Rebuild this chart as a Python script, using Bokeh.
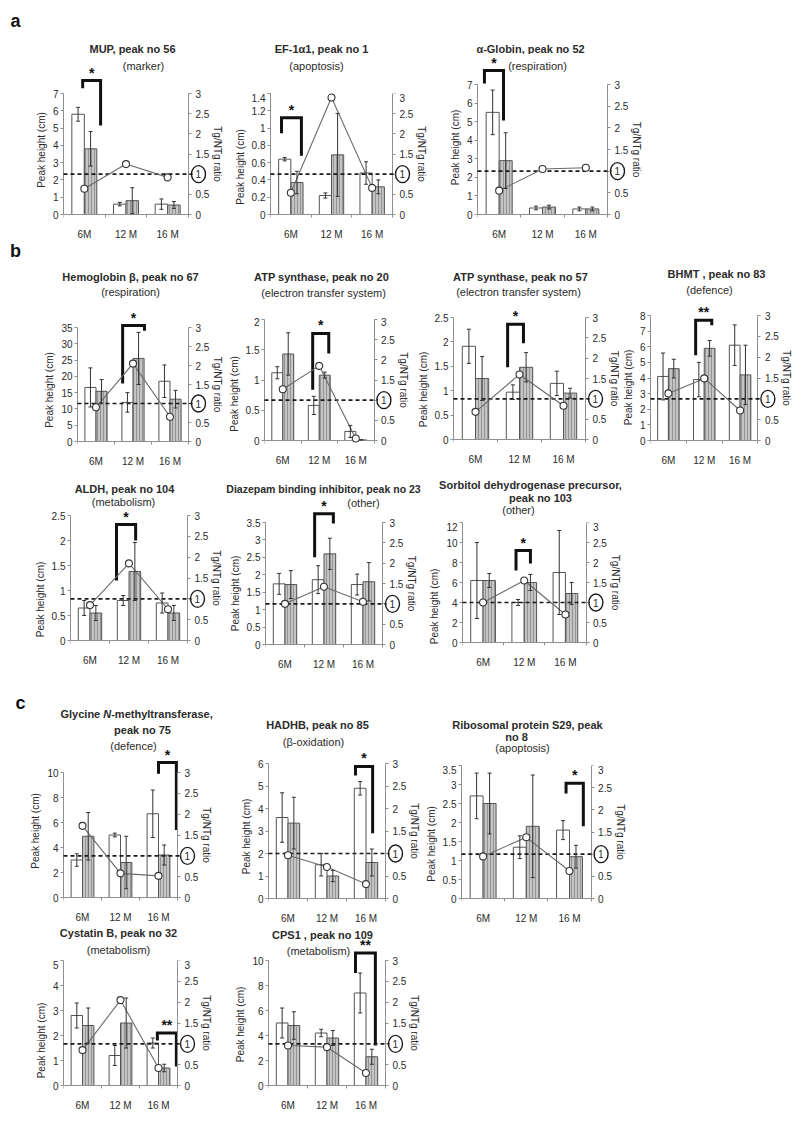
from bokeh.plotting import figure
from bokeh.models import (ColumnDataSource, Range1d, LinearAxis, FixedTicker,
                          Whisker, TeeHead)
from bokeh.layouts import column, row
from bokeh.embed import file_html
from bokeh.resources import INLINE
from bokeh.core.properties import value

FONT = "Liberation Sans"
TXT = "#2b2b2b"
AX = "#8f8f8f"

months = ["6M", "12 M", "16 M"]

# ---------------- data ----------------
# white bars = NTg, grey bars = Tg, circles = Tg/NTg ratio
mup_ntg = [5.8, 0.6, 0.6]
mup_ntg_err = [0.4, 0.1, 0.3]
mup_tg = [3.8, 0.8, 0.55]
mup_tg_err = [1.0, 0.75, 0.2]
mup_ratio = [0.64, 1.25, 0.92]

ef_ntg = [0.64, 0.22, 0.48]
ef_ntg_err = [0.02, 0.03, 0.13]
ef_tg = [0.37, 0.69, 0.32]
ef_tg_err = [0.13, 0.48, 0.08]
ef_ratio = [0.54, 2.9, 0.66]

glob_ntg = [5.5, 0.35, 0.3]
glob_ntg_err = [1.2, 0.1, 0.1]
glob_tg = [2.9, 0.4, 0.3]
glob_tg_err = [1.5, 0.1, 0.1]
glob_ratio = [0.55, 1.05, 1.08]

hemo_ntg = [16.6, 12.0, 18.5]
hemo_ntg_err = [6.0, 3.0, 5.0]
hemo_tg = [15.4, 25.5, 13.0]
hemo_tg_err = [3.6, 8.0, 2.7]
hemo_ratio = [0.9, 2.05, 0.65]

atp20_ntg = [1.12, 0.58, 0.15]
atp20_ntg_err = [0.1, 0.15, 0.1]
atp20_tg = [1.43, 1.08, 0.01]
atp20_tg_err = [0.35, 0.05, 0.0]
atp20_ratio = [1.27, 1.85, 0.05]

atp57_ntg = [1.91, 0.97, 1.15]
atp57_ntg_err = [0.35, 0.15, 0.25]
atp57_tg = [1.25, 1.48, 0.95]
atp57_tg_err = [0.45, 0.3, 0.1]
atp57_ratio = [0.68, 1.6, 0.83]

bhmt_ntg = [4.1, 3.9, 6.1]
bhmt_ntg_err = [1.5, 1.1, 1.3]
bhmt_tg = [4.6, 5.9, 4.2]
bhmt_tg_err = [0.6, 0.5, 1.9]
bhmt_ratio = [1.13, 1.49, 0.72]

aldh_ntg = [0.65, 0.8, 0.75]
aldh_ntg_err = [0.15, 0.1, 0.2]
aldh_tg = [0.55, 1.38, 0.55]
aldh_tg_err = [0.15, 0.58, 0.15]
aldh_ratio = [0.85, 1.85, 0.75]

dbi_ntg = [1.74, 1.86, 1.72]
dbi_ntg_err = [0.3, 0.4, 0.3]
dbi_tg = [1.72, 2.6, 1.8]
dbi_tg_err = [0.4, 0.45, 0.55]
dbi_ratio = [1.0, 1.42, 1.05]

sord_ntg = [6.2, 4.0, 7.0]
sord_ntg_err = [3.8, 0.3, 4.2]
sord_tg = [6.2, 6.0, 4.9]
sord_tg_err = [0.7, 0.8, 1.1]
sord_ratio = [1.0, 1.55, 0.7]

gnmt_ntg = [3.0, 5.0, 6.7]
gnmt_ntg_err = [0.5, 0.15, 1.9]
gnmt_tg = [4.9, 2.8, 3.4]
gnmt_tg_err = [1.9, 2.1, 0.8]
gnmt_ratio = [1.72, 0.58, 0.52]

hadhb_ntg = [3.6, 1.5, 4.9]
hadhb_ntg_err = [1.1, 0.5, 0.3]
hadhb_tg = [3.35, 1.0, 1.6]
hadhb_tg_err = [1.15, 0.25, 0.6]
hadhb_ratio = [0.96, 0.7, 0.32]

rps29_ntg = [2.7, 1.35, 1.8]
rps29_ntg_err = [0.6, 0.3, 0.25]
rps29_tg = [2.5, 1.9, 1.1]
rps29_tg_err = [0.8, 1.35, 0.3]
rps29_ratio = [0.95, 1.38, 0.62]

cstb_ntg = [2.8, 1.2, 1.7]
cstb_ntg_err = [0.5, 0.4, 0.2]
cstb_tg = [2.4, 2.5, 0.7]
cstb_tg_err = [0.7, 1.0, 0.15]
cstb_ratio = [0.85, 2.05, 0.42]

cps1_ntg = [5.0, 4.2, 7.4]
cps1_ntg_err = [1.2, 0.3, 1.6]
cps1_tg = [4.8, 3.8, 2.3]
cps1_tg_err = [1.1, 0.6, 0.6]
cps1_ratio = [0.96, 0.92, 0.3]

# ---------------- panels ----------------
# frame = (left px, right px, axis-top px, zero px) in page coordinates
PANELS = [
    dict(key="a1", d=(mup_ntg, mup_ntg_err, mup_tg, mup_tg_err, mup_ratio), ymax=7, ystep=1,
         stars="*", bracket=(0.46, 0.89, 7.3, 7.75, 5.15),
         frame=(63, 188, 93, 214), fig_x=(8, 229), row_y=(8, 240), letter=("a", 15, 20),
         titles=[("MUP, peak no 56", 132, 48, "bold"), ("(marker)", 143, 65, "normal")]),
    dict(key="a2", d=(ef_ntg, ef_ntg_err, ef_tg, ef_tg_err, ef_ratio), ymax=1.4, ystep=0.2,
         stars="*", bracket=(0.27, 0.76, 0.94, 1.12, 0.68),
         frame=(270, 392, 93, 214), fig_x=(229, 435), row_y=(8, 240),
         titles=[("EF-1\u03b11, peak no 1", 321, 48, "bold"), ("(apoptosis)", 316, 65, "normal")]),
    dict(key="a3", d=(glob_ntg, glob_ntg_err, glob_tg, glob_tg_err, glob_ratio), ymax=7, ystep=1,
         stars="*", bracket=(0.16, 0.60, 7.05, 7.75, 5.06),
         frame=(477, 607, 84, 214), fig_x=(435, 793), row_y=(8, 240),
         titles=[("\u03b1-Globin, peak no 52", 530, 48, "bold"), ("(respiration)", 537, 65, "normal")]),

    dict(key="b1", d=(hemo_ntg, hemo_ntg_err, hemo_tg, hemo_tg_err, hemo_ratio), ymax=35, ystep=5,
         stars="*", bracket=(1.22, 1.81, 17.8, 35.6, 34.0),
         frame=(77, 188, 327, 441), fig_x=(8, 225), row_y=(240, 470), letter=("b", 15, 250),
         titles=[("Hemoglobin \u03b2, peak no 67", 130, 276, "bold"), ("(respiration)", 130, 291, "normal")]),
    dict(key="b2", d=(atp20_ntg, atp20_ntg_err, atp20_tg, atp20_tg_err, atp20_ratio), ymax=2, ystep=0.5,
         stars="*", bracket=(1.32, 1.76, 0.84, 1.77, 1.44),
         frame=(262, 373, 319, 440), fig_x=(225, 413), row_y=(240, 470),
         titles=[("ATP synthase, peak no 20", 321, 276, "bold"), ("(electron transfer system)", 323, 292, "normal")]),
    dict(key="b3", d=(atp57_ntg, atp57_ntg_err, atp57_tg, atp57_tg_err, atp57_ratio), ymax=2.5, ystep=0.5,
         stars="*", bracket=(1.23, 1.59, 1.48, 2.36, 1.97),
         frame=(453, 585, 317, 439), fig_x=(413, 619), row_y=(240, 470),
         titles=[("ATP synthase, peak no 57", 520, 276, "bold"), ("(electron transfer system)", 518, 291, "normal")]),
    dict(key="b4", d=(bhmt_ntg, bhmt_ntg_err, bhmt_tg, bhmt_tg_err, bhmt_ratio), ymax=8, ystep=1,
         stars="**", bracket=(1.26, 1.71, 5.45, 7.7, 7.37),
         frame=(648, 757, 315, 440), fig_x=(619, 793), row_y=(240, 470),
         titles=[("BHMT , peak no 83", 716, 273, "bold"), ("(defence)", 709, 289, "normal")]),

    dict(key="b5", d=(aldh_ntg, aldh_ntg_err, aldh_tg, aldh_tg_err, aldh_ratio), ymax=2.5, ystep=0.5,
         stars="*", bracket=(1.18, 1.67, 1.2, 2.32, 2.0),
         frame=(70, 187, 515, 640), fig_x=(8, 222), row_y=(470, 690),
         titles=[("ALDH, peak no 104", 124, 488, "bold"), ("(metabolism)", 123, 501, "normal")]),
    dict(key="b6", d=(dbi_ntg, dbi_ntg_err, dbi_tg, dbi_tg_err, dbi_ratio), ymax=3.5, ystep=0.5,
         stars="*", bracket=(1.26, 1.74, 2.5, 3.75, 3.47),
         frame=(265, 382, 522, 644), fig_x=(222, 426), row_y=(470, 690),
         titles=[("Diazepam binding inhibitor, peak no 23", 323, 488, "bold", "center", "10.5px"),
                 ("(other)", 363, 502, "normal")]),
    dict(key="b7", d=(sord_ntg, sord_ntg_err, sord_tg, sord_tg_err, sord_ratio), ymax=12, ystep=2,
         stars="*", bracket=(1.30, 1.65, 7.2, 9.2, 7.9),
         frame=(458, 583, 522, 642), fig_x=(426, 793), row_y=(470, 690),
         titles=[("Sorbitol dehydrogenase precursor,", 530, 484, "bold"), ("peak no 103", 540, 497, "bold"),
                 ("(other)", 518, 509, "normal")]),

    dict(key="c1", d=(gnmt_ntg, gnmt_ntg_err, gnmt_tg, gnmt_tg_err, gnmt_ratio), ymax=10, ystep=2,
         stars="*", bracket=(2.50, 2.97, 9.9, 10.8, 5.4),
         frame=(63, 177, 772, 897), fig_x=(8, 222), row_y=(690, 922), letter=("c", 20, 702),
         titles=[("Glycine ", 60, 713, "bold", "left"), ("N", 102.8, 713, "bold italic", "left"),
                 ("-methyltransferase,", 110.7, 713, "bold", "left"),
                 ("peak no 75", 142, 729, "bold"), ("(defence)", 133, 745, "normal")]),
    dict(key="c2", d=(hadhb_ntg, hadhb_ntg_err, hadhb_tg, hadhb_tg_err, hadhb_ratio), ymax=6, ystep=1,
         stars="*", bracket=(2.23, 2.67, 5.47, 5.87, 2.9),
         frame=(268, 385, 763, 898), fig_x=(222, 422), row_y=(690, 922),
         titles=[("HADHB, peak no 85", 317, 724, "bold"), ("(\u03b2-oxidation)", 313, 741, "normal")]),
    dict(key="c3", d=(rps29_ntg, rps29_ntg_err, rps29_tg, rps29_tg_err, rps29_ratio), ymax=3.5, ystep=0.5,
         stars="*", bracket=(2.42, 2.82, 2.76, 3.03, 1.9),
         frame=(460, 590, 765, 898), fig_x=(422, 793), row_y=(690, 922),
         titles=[("Ribosomal protein S29, peak", 527, 724, "bold"), ("no 8", 516, 736, "bold"),
                 ("(apoptosis)", 522, 747, "normal")]),

    dict(key="c4", d=(cstb_ntg, cstb_ntg_err, cstb_tg, cstb_tg_err, cstb_ratio), ymax=5, ystep=1,
         stars="**", bracket=(2.47, 2.97, 1.8, 2.1, 0.76),
         frame=(63, 177, 960, 1085), fig_x=(8, 222), row_y=(922, 1120),
         titles=[("Cystatin B, peak no 32", 118, 932, "bold"), ("(metabolism)", 118, 949, "normal")]),
    dict(key="c5", d=(cps1_ntg, cps1_ntg_err, cps1_tg, cps1_tg_err, cps1_ratio), ymax=10, ystep=2,
         stars="**", bracket=(2.23, 2.74, 9.0, 10.6, 3.2),
         frame=(268, 385, 960, 1085), fig_x=(222, 793), row_y=(922, 1120),
         titles=[("CPS1 , peak no 109", 322, 934, "bold"), ("(metabolism)", 318, 950, "normal")]),
]

HALF = 6  # half height of a title line, px


def tick_list(maxv, step):
    n = int(round(maxv / step))
    return [round(i * step, 6) for i in range(n + 1)]


def tkey(v):
    return int(v) if float(v).is_integer() else v


def style_axis(ax):
    ax.axis_line_color = AX
    ax.major_tick_line_color = AX
    ax.minor_tick_line_color = AX
    ax.major_label_text_font = FONT
    ax.major_label_text_font_size = "10px"
    ax.major_label_text_color = TXT
    ax.axis_label_text_font = FONT
    ax.axis_label_text_font_size = "10px"
    ax.axis_label_text_font_style = "normal"
    ax.axis_label_text_color = TXT
    ax.major_tick_in = 0
    ax.major_tick_out = 3
    ax.minor_tick_in = 0
    ax.minor_tick_out = 0
    ax.major_label_standoff = 2
    ax.axis_label_standoff = 3


def draw_text(fig, x, y, txt, st, al, size="11px", color=TXT):
    fig.text(x=[x], y=[y], text=[txt], text_align=al, text_baseline="middle",
             text_font=value(FONT), text_font_size=size, text_font_style=st,
             text_color=color)


def make_panel(P):
    L, R, T, Z = P["frame"]
    fl, fr = P["fig_x"]
    rt, rb = P["row_y"]
    ymax, ystep = P["ymax"], P["ystep"]
    ntg, ntg_err, tg, tg_err, ratio = P["d"]
    py = (Z - T) / ymax          # px per left-axis unit
    pr = (Z - T) / 3.0           # px per ratio unit
    pxg = (R - L) / 3.0          # px per group
    xl, xr, lb, btop, rbk = P["bracket"]
    top_px = Z - btop * py
    ftop = min(T, top_px - 16)
    changed = True
    while changed:
        changed = False
        for t in P["titles"]:
            cy = t[2]
            if cy - HALF < ftop < cy + HALF:
                ftop = cy - HALF
                changed = True
    ftop = int(round(max(ftop, rt + 2)))
    bottom_px = rb - Z
    x_end = 3.0 * (fr - L) / (R - L)

    # ---- title strip above the plot ----
    tf = figure(width=fr - fl, height=ftop - rt, title=None,
                x_range=Range1d(fl, fr), y_range=Range1d(ftop, rt),
                toolbar_location=None, tools="", output_backend="svg",
                min_border=0, x_axis_location=None, y_axis_location=None,
                outline_line_color=None, background_fill_color="white",
                border_fill_color="white", frame_align=False)
    tf.grid.visible = False

    # ---- plot ----
    p = figure(width=fr - fl, height=rb - ftop, title=None,
               x_range=Range1d(0, x_end),
               y_range=Range1d(-bottom_px / py, (Z - ftop) / py),
               toolbar_location=None, tools="", output_backend="svg",
               min_border_left=L - fl, min_border_right=0,
               min_border_top=0, min_border_bottom=0,
               outline_line_color=None, background_fill_color="white",
               border_fill_color="white", frame_align=False)
    p.grid.visible = False
    p.extra_y_ranges = {"ratio": Range1d(-bottom_px / pr, (Z - ftop) / pr)}

    def dx(xpx):
        return (xpx - L) / pxg

    def dy(ypx):
        return (Z - ypx) / py

    for t in P["titles"]:
        txt, cx, cy, st = t[:4]
        al = t[4] if len(t) > 4 else "center"
        sz = t[5] if len(t) > 5 else "11px"
        if cy < ftop:
            draw_text(tf, cx, cy, txt, st, al, size=sz)
        else:
            draw_text(p, dx(cx), dy(cy), txt, st, al, size=sz)
    if "letter" in P:
        ch, lx, ly = P["letter"]
        draw_text(tf, lx, ly, ch, "bold", "center", size="18px", color="#111111")

    xa = p.xaxis[0]
    xa.ticker = FixedTicker(ticks=[0.5, 1.5, 2.5], minor_ticks=[0, 1, 2, 3])
    xa.major_label_overrides = {0.5: months[0], 1.5: months[1], 2.5: months[2]}
    xa.bounds = (0, 3)
    xa.fixed_location = 0

    ya = p.yaxis[0]
    yt = tick_list(ymax, ystep)
    ya.ticker = FixedTicker(ticks=yt)
    ya.major_label_overrides = {tkey(t): f"{t:g}" for t in yt}
    ya.bounds = (0, ymax)
    ya.axis_label = "Peak height (cm)"

    rtk = tick_list(3, 0.5)
    ra = LinearAxis(y_range_name="ratio", ticker=FixedTicker(ticks=rtk), bounds=(0, 3),
                    axis_label="Tg/NTg ratio", fixed_location=3)
    ra.major_label_overrides = {tkey(t): f"{t:g}" for t in rtk}
    p.add_layout(ra, "right")

    for ax in (xa, ya, ra):
        style_axis(ax)
    ra.major_label_standoff = 4
    ra.axis_label_standoff = 0
    xa.major_tick_out = 0
    xa.minor_tick_out = 3
    xa.major_label_standoff = 11
    xa.axis_label_standoff = 0

    g = [0.5, 1.5, 2.5]
    src = ColumnDataSource(dict(
        g=g, xn=[v - 0.15 for v in g], xt=[v + 0.15 for v in g],
        ntg=ntg, tg=tg, ratio=ratio,
        nlo=[max(0, a - b) for a, b in zip(ntg, ntg_err)], nhi=[a + b for a, b in zip(ntg, ntg_err)],
        tlo=[max(0, a - b) for a, b in zip(tg, tg_err)], thi=[a + b for a, b in zip(tg, tg_err)],
    ))
    p.vbar(x="xn", top="ntg", width=0.3, source=src, fill_color="white",
           line_color="#555555", line_width=1)
    p.vbar(x="xt", top="tg", width=0.3, source=src, fill_color="#c4c4c4",
           line_color="#555555", line_width=1, hatch_pattern="vertical_line",
           hatch_color="#808080", hatch_scale=3, hatch_weight=0.7)
    for xk, lo, hi in (("xn", "nlo", "nhi"), ("xt", "tlo", "thi")):
        w = Whisker(source=src, base=xk, lower=lo, upper=hi, line_color="#333333",
                    line_width=1, level="annotation",
                    upper_head=TeeHead(size=4, line_color="#333333", line_width=1),
                    lower_head=TeeHead(size=4, line_color="#333333", line_width=1))
        p.add_layout(w)

    # reference line at ratio 1, running up to the circled "1" on the ratio axis
    p.segment(x0=[0], y0=[1], x1=[3 + 4 / pxg], y1=[1], y_range_name="ratio",
              line_color="#1a1a1a", line_width=1.6, line_dash="4 3", level="annotation")
    p.ellipse(x=[3 + 10 / pxg], y=[1], width=14, height=17, width_units="screen",
              height_units="screen", y_range_name="ratio", fill_color=None,
              line_color="#1a1a1a", line_width=1.4)
    p.line(x="g", y="ratio", source=src, y_range_name="ratio",
           line_color="#6a6a6a", line_width=1.1, level="annotation")
    p.scatter(x="g", y="ratio", source=src, y_range_name="ratio", marker="circle",
              size=7, fill_color="white", line_color="#333333", line_width=1.1,
              level="overlay")

    # significance bracket and stars
    p.multi_line(xs=[[xl, xl, xr, xr]], ys=[[lb, btop, btop, rbk]],
                 line_color="#111111", line_width=3, line_join="miter")
    p.text(x=[(xl + xr) / 2], y=[btop + 8 / py], text=[P["stars"]],
           text_align="center", text_baseline="middle", text_font=value(FONT),
           text_font_size="14px", text_font_style="bold", text_color="#111111")

    return column(tf, p, spacing=0)


cols = {P["key"]: make_panel(P) for P in PANELS}
layout = column(
    row(cols["a1"], cols["a2"], cols["a3"]),
    row(cols["b1"], cols["b2"], cols["b3"], cols["b4"]),
    row(cols["b5"], cols["b6"], cols["b7"]),
    row(cols["c1"], cols["c2"], cols["c3"]),
    row(cols["c4"], cols["c5"]),
    spacing=0, margin=(8, 0, 0, 8),
)

open("out.html", "w").write(file_html(layout, INLINE))
